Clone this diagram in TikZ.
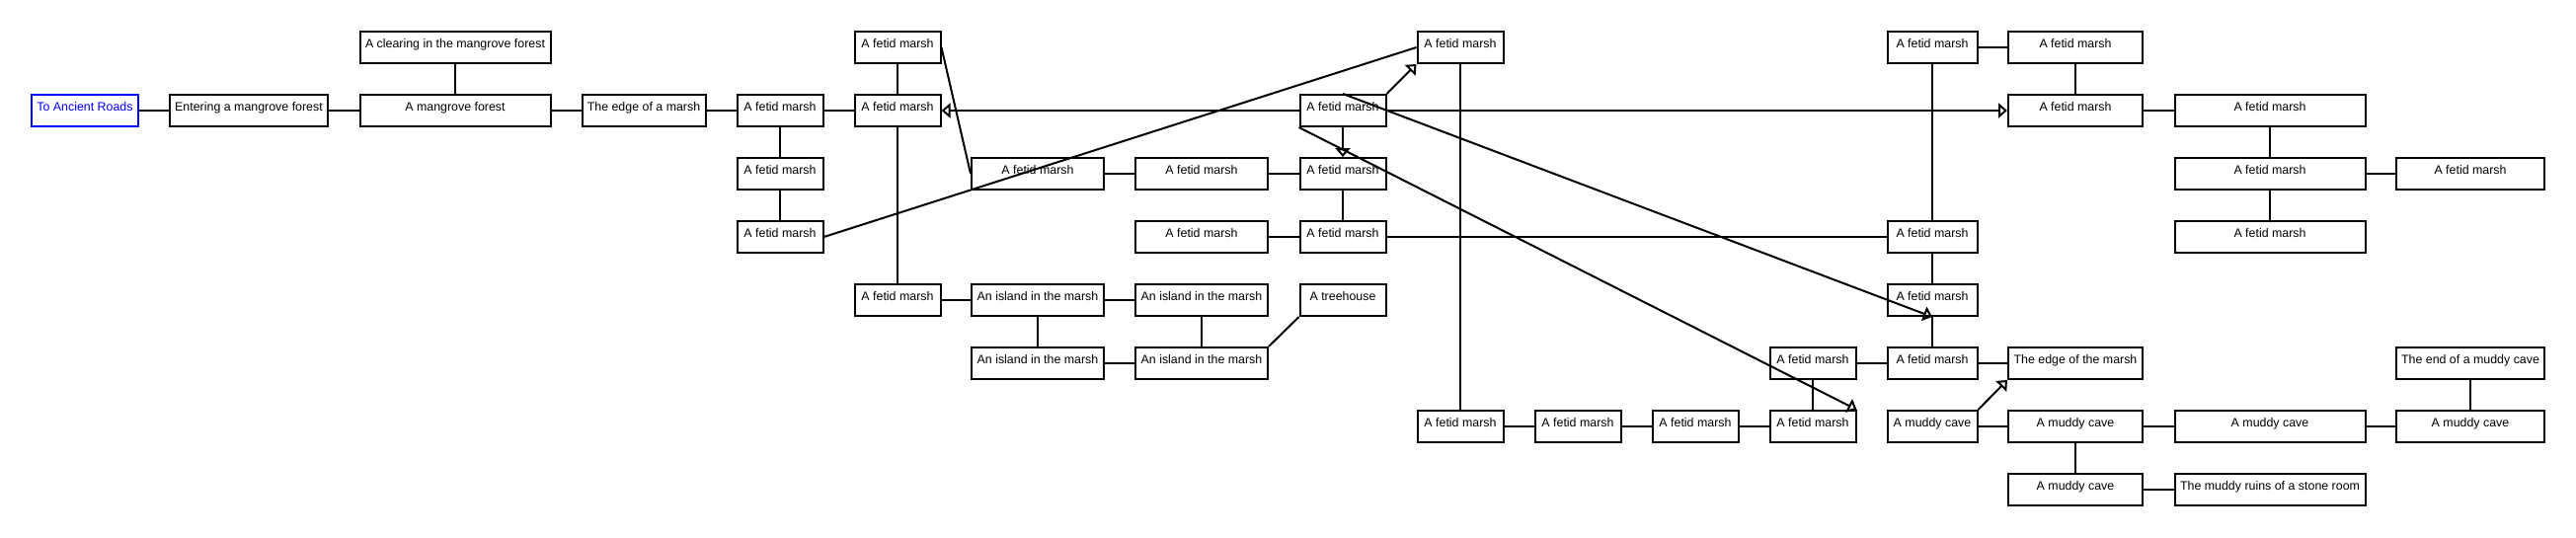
\documentclass[tikz,border=0pt]{standalone}
\usepackage{fontspec}
\setmainfont{Liberation Sans}
\usetikzlibrary{arrows.meta}
\tikzset{
  room/.style={draw, line width=2pt, minimum width=#1, minimum height=32pt, inner sep=0pt,
    text height=16pt, text depth=16pt, font=\fontsize{12.4pt}{14pt}\selectfont},
  room/.default=87pt,
  exitroom/.style={room=#1, draw=blue, text=blue},
  link/.style={line width=2pt},
  oneway/.style={link, -{Triangle[open, length=9pt, width=15pt]}},
}

\begin{document}
\begin{tikzpicture}[x=1pt, y=-1pt]
  \useasboundingbox (0,0) rectangle (2609,544);

  % way in from the roads
  \node[exitroom=108pt] (roads) at (86,112) {To Ancient Roads};
  \node[room=160pt] (entering) at (252,112) {Entering a mangrove forest};
  \node[room=193pt] (clearing) at (461,48) {A clearing in the mangrove forest};
  \node[room=193pt] (mangrove) at (461,112) {A mangrove forest};
  \node[room=125pt] (edge) at (652,112) {The edge of a marsh};

  % the marsh
  \node[room] (a2) at (790,112) {A fetid marsh};
  \node[room] (a3) at (790,176) {A fetid marsh};
  \node[room] (a4) at (790,240) {A fetid marsh};
  \node[room] (b1) at (909,48) {A fetid marsh};
  \node[room] (b2) at (909,112) {A fetid marsh};
  \node[room] (b5) at (909,304) {A fetid marsh};
  \node[room=134pt] (c3) at (1051,176) {A fetid marsh};
  \node[room=134pt] (c5) at (1051,304) {An island in the marsh};
  \node[room=134pt] (c6) at (1051,368) {An island in the marsh};
  \node[room=134pt] (d3) at (1217,176) {A fetid marsh};
  \node[room=134pt] (d4) at (1217,240) {A fetid marsh};
  \node[room=134pt] (d5) at (1217,304) {An island in the marsh};
  \node[room=134pt] (d6) at (1217,368) {An island in the marsh};
  \node[room] (e2) at (1360,112) {A fetid marsh};
  \node[room] (e3) at (1360,176) {A fetid marsh};
  \node[room] (e4) at (1360,240) {A fetid marsh};
  \node[room] (e5) at (1360,304) {A treehouse};
  \node[room] (f1) at (1479,48) {A fetid marsh};
  \node[room] (f7) at (1479,432) {A fetid marsh};
  \node[room] (g7) at (1598,432) {A fetid marsh};
  \node[room] (h7) at (1717,432) {A fetid marsh};
  \node[room] (i6) at (1836,368) {A fetid marsh};
  \node[room] (i7) at (1836,432) {A fetid marsh};
  \node[room=91pt] (j1) at (1957,48) {A fetid marsh};
  \node[room=91pt] (j4) at (1957,240) {A fetid marsh};
  \node[room=91pt] (j5) at (1957,304) {A fetid marsh};
  \node[room=91pt] (j6) at (1957,368) {A fetid marsh};
  \node[room=136pt] (k1) at (2102,48) {A fetid marsh};
  \node[room=136pt] (k2) at (2102,112) {A fetid marsh};
  \node[room=136pt] (k6) at (2102,368) {The edge of the marsh};
  \node[room=193pt] (l2) at (2299,112) {A fetid marsh};
  \node[room=193pt] (l3) at (2299,176) {A fetid marsh};
  \node[room=193pt] (l4) at (2299,240) {A fetid marsh};
  \node[room=150pt] (m3) at (2502,176) {A fetid marsh};

  % the muddy cave
  \node[room=91pt] (j7) at (1957,432) {A muddy cave};
  \node[room=136pt] (k7) at (2102,432) {A muddy cave};
  \node[room=136pt] (k8) at (2102,496) {A muddy cave};
  \node[room=193pt] (l7) at (2299,432) {A muddy cave};
  \node[room=193pt] (l8) at (2299,496) {The muddy ruins of a stone room};
  \node[room=150pt] (m6) at (2502,368) {The end of a muddy cave};
  \node[room=150pt] (m7) at (2502,432) {A muddy cave};

  % two-way paths
  \draw[link] (roads) -- (entering);
  \draw[link] (entering) -- (mangrove);
  \draw[link] (clearing) -- (mangrove);
  \draw[link] (mangrove) -- (edge);
  \draw[link] (edge) -- (a2);
  \draw[link] (a2) -- (b2);
  \draw[link] (a2) -- (a3);
  \draw[link] (a3) -- (a4);
  \draw[link] (b1) -- (b2);
  \draw[link] (b2) -- (b5);
  \draw[link] (b1.east) -- (c3.west);
  \draw[link] (a4.east) -- (f1.west);
  \draw[link] (c3) -- (d3);
  \draw[link] (d3) -- (e3);
  \draw[link] (e3) -- (e4);
  \draw[link] (d4) -- (e4);
  \draw[link] (e4) -- (j4);
  \draw[link] (b5) -- (c5);
  \draw[link] (c5) -- (d5);
  \draw[link] (c5) -- (c6);
  \draw[link] (d5) -- (d6);
  \draw[link] (c6) -- (d6);
  \draw[link] (d6.north east) -- (e5.south west);
  \draw[link] (f1) -- (f7);
  \draw[link] (f7) -- (g7);
  \draw[link] (g7) -- (h7);
  \draw[link] (h7) -- (i7);
  \draw[link] (i6) -- (i7);
  \draw[link] (i6) -- (j6);
  \draw[link] (j1) -- (k1);
  \draw[link] (j1) -- (j4);
  \draw[link] (j4) -- (j5);
  \draw[link] (j5) -- (j6);
  \draw[link] (j6) -- (k6);
  \draw[link] (k1) -- (k2);
  \draw[link] (k2) -- (l2);
  \draw[link] (l2) -- (l3);
  \draw[link] (l3) -- (m3);
  \draw[link] (l3) -- (l4);
  \draw[link] (j7) -- (k7);
  \draw[link] (k7) -- (l7);
  \draw[link] (l7) -- (m7);
  \draw[link] (m6) -- (m7);
  \draw[link] (k7) -- (k8);
  \draw[link] (k8) -- (l8);

  % one-way paths
  \draw[oneway] (e2.west) -- (b2.east);
  \draw[oneway] (e2.north east) -- (f1.south west);
  \draw[oneway] (e2.south) -- (e3.north);
  \draw[oneway] (e2.north) -- (j5.south);
  \draw[oneway] (e2.south west) -- (i7.north east);
  \draw[oneway] (e2.east) -- (k2.west);
  \draw[oneway] (j7.north east) -- (k6.south west);
\end{tikzpicture}
\end{document}
